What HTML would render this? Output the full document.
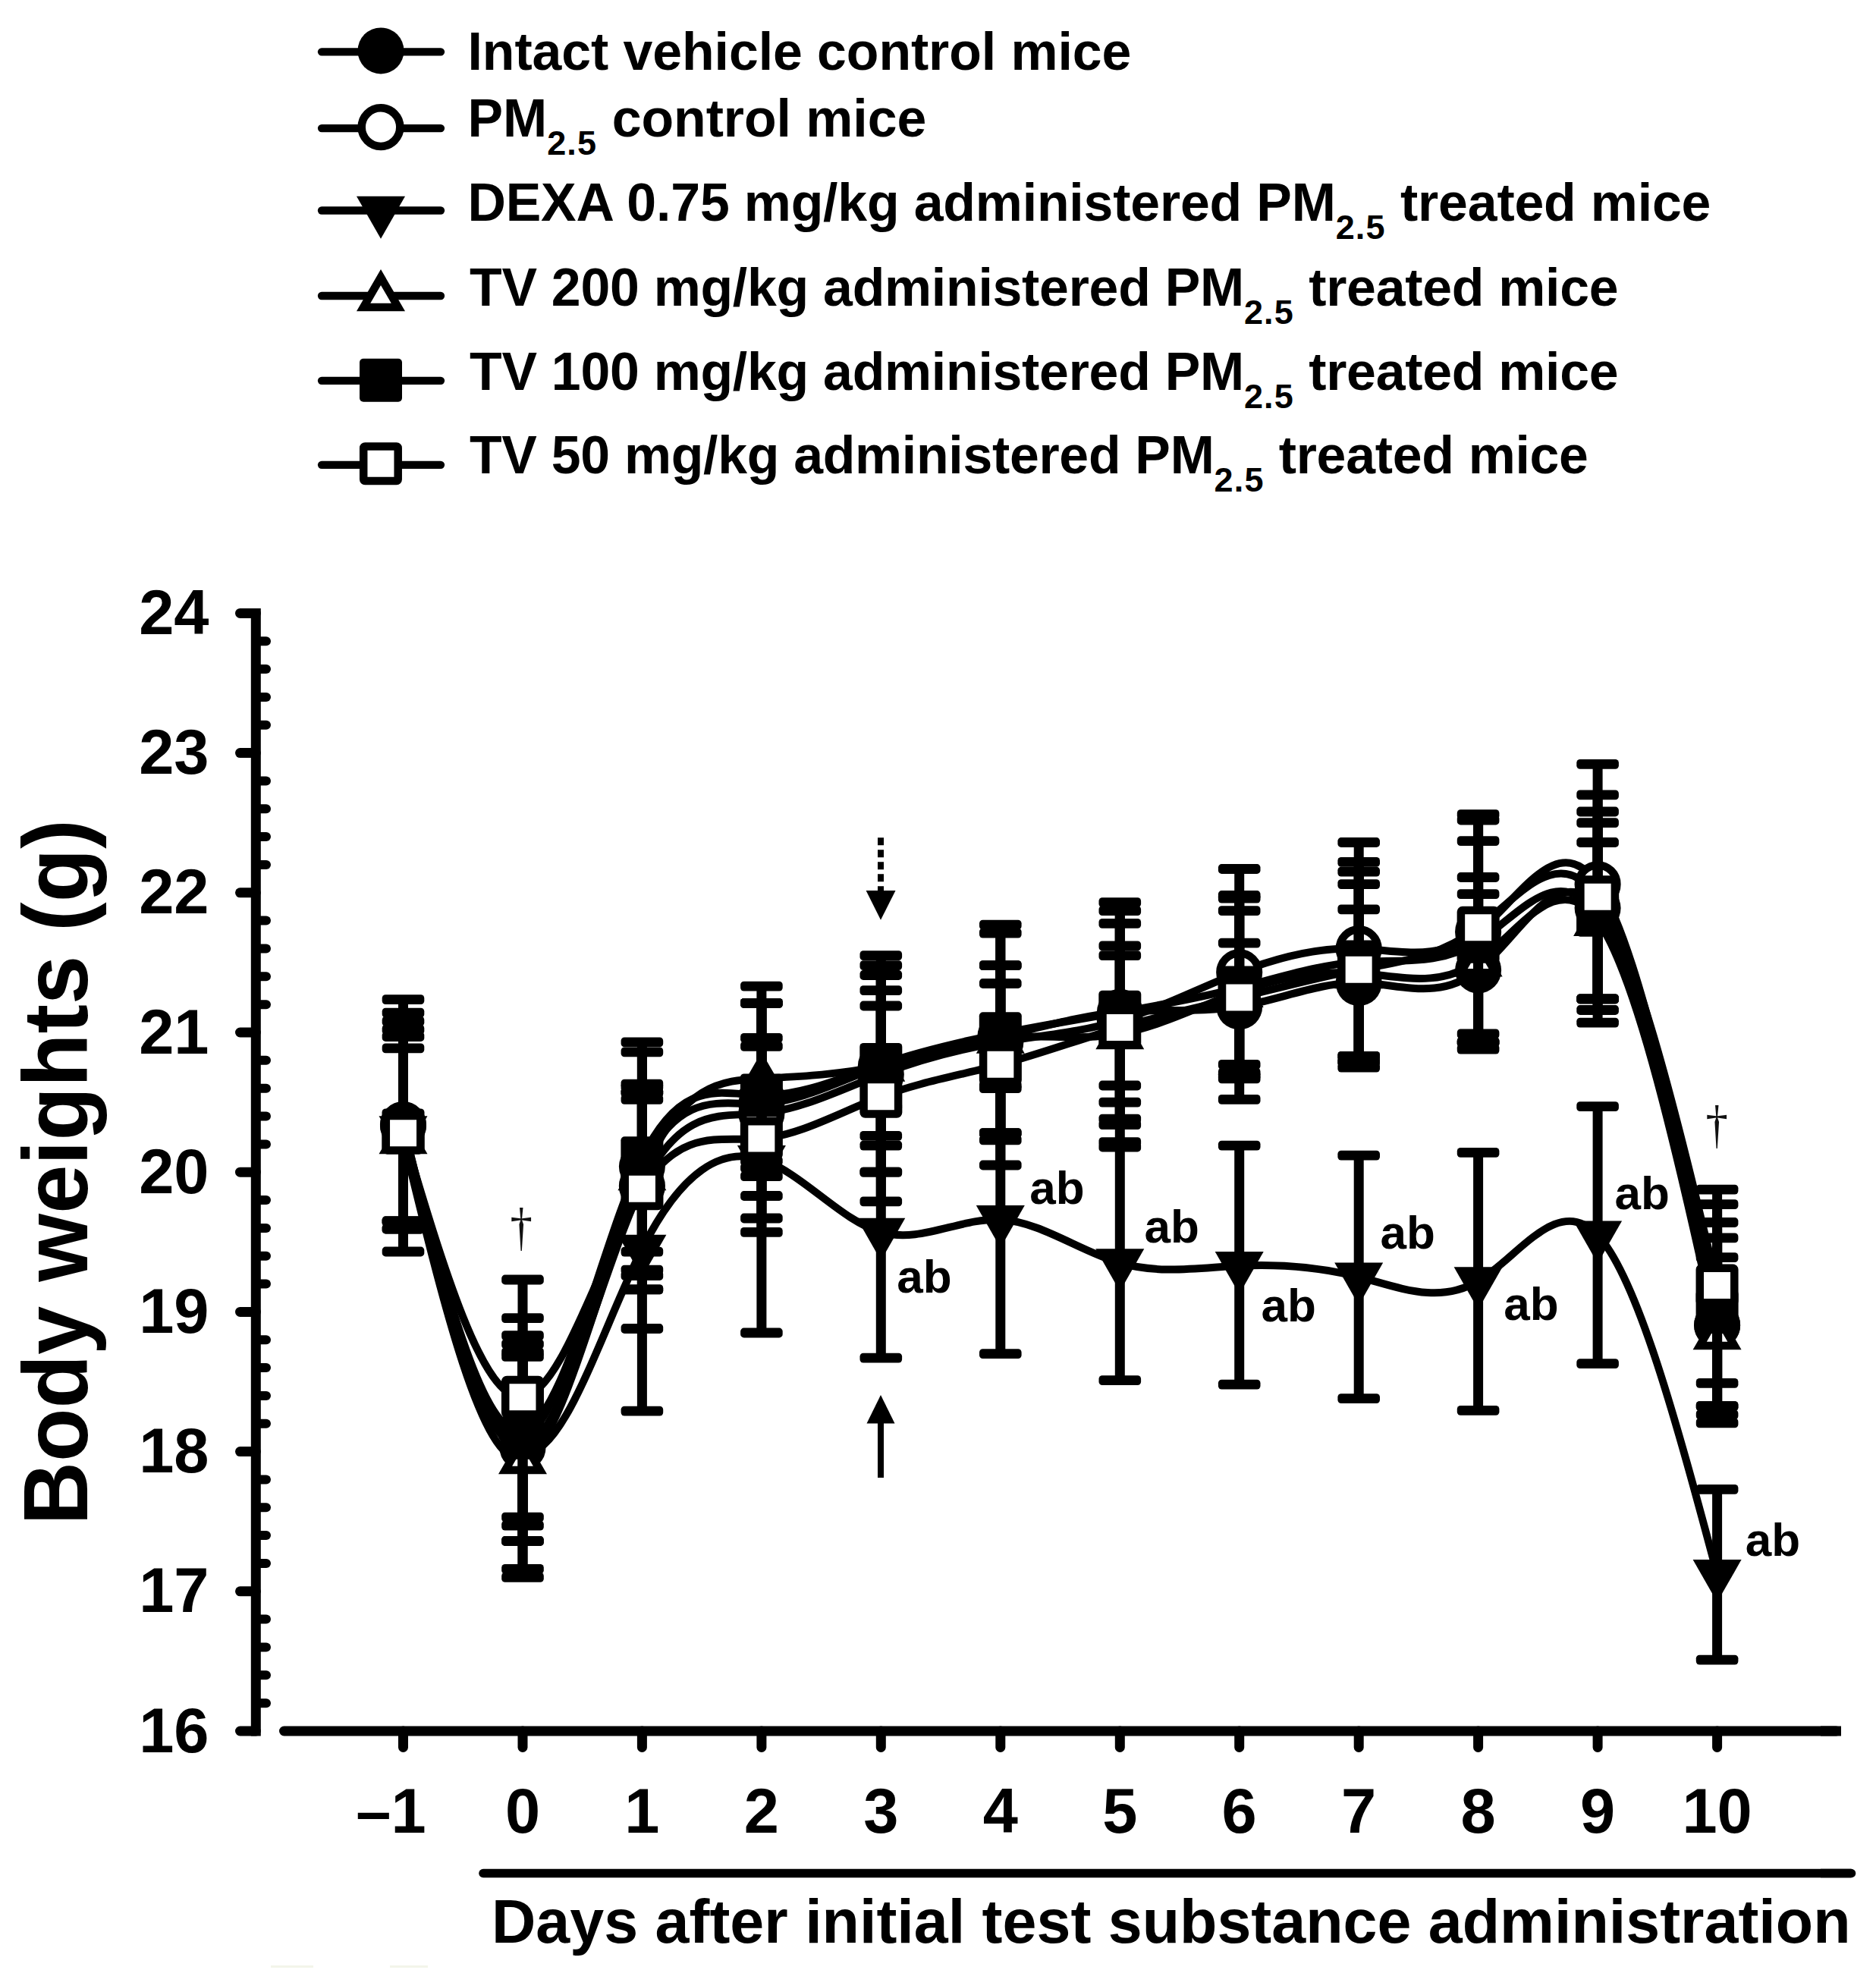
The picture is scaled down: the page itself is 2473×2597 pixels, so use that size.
<!DOCTYPE html>
<html lang="en">
<head>
<meta charset="utf-8">
<title>Body weights</title>
<style>html,body{margin:0;padding:0;background:#fff}svg{display:block}</style>
</head>
<body>
<svg width="2473" height="2597" viewBox="0 0 2473 2597" font-family="'Liberation Sans', sans-serif" font-weight="bold" fill="#000">
<rect width="2473" height="2597" fill="#fff"/>
<g id="legend">
<line x1="424" y1="68.3" x2="581" y2="68.3" stroke="#000" stroke-width="10.3" stroke-linecap="round"/>
<circle cx="502.0" cy="66.9" r="30.5"/>
<text x="616.5" y="91.6" font-size="69.8" letter-spacing="-0.070" xml:space="preserve">Intact vehicle control mice</text>
<line x1="424" y1="169.1" x2="581" y2="169.1" stroke="#000" stroke-width="10.3" stroke-linecap="round"/>
<circle cx="502.0" cy="167.6" r="25.3" fill="#fff" stroke="#000" stroke-width="10.5"/>
<text x="616.5" y="179.5" font-size="69.8" letter-spacing="-0.030" xml:space="preserve">PM<tspan font-size="45" dy="24" letter-spacing="1.2">2.5</tspan><tspan dy="-24"> control mice</tspan></text>
<line x1="424" y1="277.5" x2="581" y2="277.5" stroke="#000" stroke-width="10.3" stroke-linecap="round"/>
<path d="M470.0 258.8 H534.0 L502.0 314.8 Z"/>
<text x="616.5" y="291.0" font-size="69.8" letter-spacing="-0.170" xml:space="preserve">DEXA 0.75 mg/kg administered PM<tspan font-size="45" dy="24" letter-spacing="1.2">2.5</tspan><tspan dy="-24"> treated mice</tspan></text>
<line x1="424" y1="390.0" x2="581" y2="390.0" stroke="#000" stroke-width="10.3" stroke-linecap="round"/>
<path d="M479.1 405.1 L524.9 405.1 L502.0 365.5 Z" fill="#fff" stroke="#000" stroke-width="10.5" stroke-linejoin="miter" stroke-miterlimit="10"/>
<text x="619.0" y="403.0" font-size="69.8" letter-spacing="-0.250" xml:space="preserve">TV 200 mg/kg administered PM<tspan font-size="45" dy="24" letter-spacing="1.2">2.5</tspan><tspan dy="-24"> treated mice</tspan></text>
<line x1="424" y1="501.8" x2="581" y2="501.8" stroke="#000" stroke-width="10.3" stroke-linecap="round"/>
<rect x="474.0" y="472.7" width="56" height="57" rx="5"/>
<text x="619.0" y="514.2" font-size="69.8" letter-spacing="-0.250" xml:space="preserve">TV 100 mg/kg administered PM<tspan font-size="45" dy="24" letter-spacing="1.2">2.5</tspan><tspan dy="-24"> treated mice</tspan></text>
<line x1="424" y1="612.8" x2="581" y2="612.8" stroke="#000" stroke-width="10.3" stroke-linecap="round"/>
<rect x="479.2" y="588.5" width="45.5" height="45.5" rx="2" fill="#fff" stroke="#000" stroke-width="10.5"/>
<text x="619.0" y="623.5" font-size="69.8" letter-spacing="-0.280" xml:space="preserve">TV 50 mg/kg administered PM<tspan font-size="45" dy="24" letter-spacing="1.2">2.5</tspan><tspan dy="-24"> treated mice</tspan></text>
</g>
<g id="axes" stroke="#000" fill="none">
<line x1="337.3" y1="801.9" x2="337.3" y2="2288.5" stroke-width="13"/>
<line x1="316.5" y1="2282.0" x2="337.3" y2="2282.0" stroke-width="13" stroke-linecap="round"/>
<line x1="337.3" y1="2245.2" x2="351" y2="2245.2" stroke-width="12" stroke-linecap="round"/>
<line x1="337.3" y1="2208.3" x2="351" y2="2208.3" stroke-width="12" stroke-linecap="round"/>
<line x1="337.3" y1="2171.5" x2="351" y2="2171.5" stroke-width="12" stroke-linecap="round"/>
<line x1="337.3" y1="2134.6" x2="351" y2="2134.6" stroke-width="12" stroke-linecap="round"/>
<line x1="316.5" y1="2097.8" x2="337.3" y2="2097.8" stroke-width="13" stroke-linecap="round"/>
<line x1="337.3" y1="2061.0" x2="351" y2="2061.0" stroke-width="12" stroke-linecap="round"/>
<line x1="337.3" y1="2024.1" x2="351" y2="2024.1" stroke-width="12" stroke-linecap="round"/>
<line x1="337.3" y1="1987.3" x2="351" y2="1987.3" stroke-width="12" stroke-linecap="round"/>
<line x1="337.3" y1="1950.4" x2="351" y2="1950.4" stroke-width="12" stroke-linecap="round"/>
<line x1="316.5" y1="1913.6" x2="337.3" y2="1913.6" stroke-width="13" stroke-linecap="round"/>
<line x1="337.3" y1="1876.8" x2="351" y2="1876.8" stroke-width="12" stroke-linecap="round"/>
<line x1="337.3" y1="1839.9" x2="351" y2="1839.9" stroke-width="12" stroke-linecap="round"/>
<line x1="337.3" y1="1803.1" x2="351" y2="1803.1" stroke-width="12" stroke-linecap="round"/>
<line x1="337.3" y1="1766.2" x2="351" y2="1766.2" stroke-width="12" stroke-linecap="round"/>
<line x1="316.5" y1="1729.4" x2="337.3" y2="1729.4" stroke-width="13" stroke-linecap="round"/>
<line x1="337.3" y1="1692.6" x2="351" y2="1692.6" stroke-width="12" stroke-linecap="round"/>
<line x1="337.3" y1="1655.7" x2="351" y2="1655.7" stroke-width="12" stroke-linecap="round"/>
<line x1="337.3" y1="1618.9" x2="351" y2="1618.9" stroke-width="12" stroke-linecap="round"/>
<line x1="337.3" y1="1582.0" x2="351" y2="1582.0" stroke-width="12" stroke-linecap="round"/>
<line x1="316.5" y1="1545.2" x2="337.3" y2="1545.2" stroke-width="13" stroke-linecap="round"/>
<line x1="337.3" y1="1508.4" x2="351" y2="1508.4" stroke-width="12" stroke-linecap="round"/>
<line x1="337.3" y1="1471.5" x2="351" y2="1471.5" stroke-width="12" stroke-linecap="round"/>
<line x1="337.3" y1="1434.7" x2="351" y2="1434.7" stroke-width="12" stroke-linecap="round"/>
<line x1="337.3" y1="1397.8" x2="351" y2="1397.8" stroke-width="12" stroke-linecap="round"/>
<line x1="316.5" y1="1361.0" x2="337.3" y2="1361.0" stroke-width="13" stroke-linecap="round"/>
<line x1="337.3" y1="1324.2" x2="351" y2="1324.2" stroke-width="12" stroke-linecap="round"/>
<line x1="337.3" y1="1287.3" x2="351" y2="1287.3" stroke-width="12" stroke-linecap="round"/>
<line x1="337.3" y1="1250.5" x2="351" y2="1250.5" stroke-width="12" stroke-linecap="round"/>
<line x1="337.3" y1="1213.6" x2="351" y2="1213.6" stroke-width="12" stroke-linecap="round"/>
<line x1="316.5" y1="1176.8" x2="337.3" y2="1176.8" stroke-width="13" stroke-linecap="round"/>
<line x1="337.3" y1="1140.0" x2="351" y2="1140.0" stroke-width="12" stroke-linecap="round"/>
<line x1="337.3" y1="1103.1" x2="351" y2="1103.1" stroke-width="12" stroke-linecap="round"/>
<line x1="337.3" y1="1066.3" x2="351" y2="1066.3" stroke-width="12" stroke-linecap="round"/>
<line x1="337.3" y1="1029.4" x2="351" y2="1029.4" stroke-width="12" stroke-linecap="round"/>
<line x1="316.5" y1="992.6" x2="337.3" y2="992.6" stroke-width="13" stroke-linecap="round"/>
<line x1="337.3" y1="955.8" x2="351" y2="955.8" stroke-width="12" stroke-linecap="round"/>
<line x1="337.3" y1="918.9" x2="351" y2="918.9" stroke-width="12" stroke-linecap="round"/>
<line x1="337.3" y1="882.1" x2="351" y2="882.1" stroke-width="12" stroke-linecap="round"/>
<line x1="337.3" y1="845.2" x2="351" y2="845.2" stroke-width="12" stroke-linecap="round"/>
<line x1="316.5" y1="808.4" x2="337.3" y2="808.4" stroke-width="13" stroke-linecap="round"/>
<line x1="374.5" y1="2282.0" x2="2420.5" y2="2282.0" stroke-width="13" stroke-linecap="round"/>
<line x1="2400" y1="2282.0" x2="2427" y2="2282.0" stroke-width="13"/>
<line x1="531.5" y1="2282.0" x2="531.5" y2="2303.5" stroke-width="13" stroke-linecap="round"/>
<line x1="689.0" y1="2282.0" x2="689.0" y2="2303.5" stroke-width="13" stroke-linecap="round"/>
<line x1="846.4" y1="2282.0" x2="846.4" y2="2303.5" stroke-width="13" stroke-linecap="round"/>
<line x1="1003.9" y1="2282.0" x2="1003.9" y2="2303.5" stroke-width="13" stroke-linecap="round"/>
<line x1="1161.3" y1="2282.0" x2="1161.3" y2="2303.5" stroke-width="13" stroke-linecap="round"/>
<line x1="1318.8" y1="2282.0" x2="1318.8" y2="2303.5" stroke-width="13" stroke-linecap="round"/>
<line x1="1476.3" y1="2282.0" x2="1476.3" y2="2303.5" stroke-width="13" stroke-linecap="round"/>
<line x1="1633.7" y1="2282.0" x2="1633.7" y2="2303.5" stroke-width="13" stroke-linecap="round"/>
<line x1="1791.2" y1="2282.0" x2="1791.2" y2="2303.5" stroke-width="13" stroke-linecap="round"/>
<line x1="1948.6" y1="2282.0" x2="1948.6" y2="2303.5" stroke-width="13" stroke-linecap="round"/>
<line x1="2106.1" y1="2282.0" x2="2106.1" y2="2303.5" stroke-width="13" stroke-linecap="round"/>
<line x1="2263.6" y1="2282.0" x2="2263.6" y2="2303.5" stroke-width="13" stroke-linecap="round"/>
<line x1="637" y1="2469.5" x2="2440.5" y2="2469.5" stroke-width="11.6" stroke-linecap="round"/>
<line x1="2400" y1="2469.5" x2="2440.5" y2="2469.5" stroke-width="11.6"/>
</g>
<g id="ticklabels" font-size="83">
<text x="275.5" y="2309.5" text-anchor="end">16</text>
<text x="275.5" y="2125.3" text-anchor="end">17</text>
<text x="275.5" y="1941.1" text-anchor="end">18</text>
<text x="275.5" y="1756.9" text-anchor="end">19</text>
<text x="275.5" y="1572.7" text-anchor="end">20</text>
<text x="275.5" y="1388.5" text-anchor="end">21</text>
<text x="275.5" y="1204.3" text-anchor="end">22</text>
<text x="275.5" y="1020.1" text-anchor="end">23</text>
<text x="275.5" y="835.9" text-anchor="end">24</text>
<text x="515.5" y="2415.5" text-anchor="middle">–1</text>
<text x="689.0" y="2415.5" text-anchor="middle">0</text>
<text x="846.4" y="2415.5" text-anchor="middle">1</text>
<text x="1003.9" y="2415.5" text-anchor="middle">2</text>
<text x="1161.3" y="2415.5" text-anchor="middle">3</text>
<text x="1318.8" y="2415.5" text-anchor="middle">4</text>
<text x="1476.3" y="2415.5" text-anchor="middle">5</text>
<text x="1633.7" y="2415.5" text-anchor="middle">6</text>
<text x="1791.2" y="2415.5" text-anchor="middle">7</text>
<text x="1948.6" y="2415.5" text-anchor="middle">8</text>
<text x="2106.1" y="2415.5" text-anchor="middle">9</text>
<text x="2263.6" y="2415.5" text-anchor="middle">10</text>
</g>
<text x="648" y="2561" font-size="80.8">Days after initial test substance administration</text>
<text transform="translate(114.5 2010.5) rotate(-90) scale(0.9585 1)" font-size="120.5">Body weights (g)</text>
<g id="data" stroke-linejoin="round">
<g id="seriesA">
<path d="M531.5 1484.4 C584.0 1691.4 636.5 1898.3 689.0 1886.0 C741.4 1873.6 793.9 1641.9 846.4 1537.8 C898.9 1433.8 951.4 1457.5 1003.9 1454.9 C1056.4 1452.4 1108.9 1423.7 1161.3 1405.2 C1213.8 1386.7 1266.3 1378.4 1318.8 1366.5 C1371.3 1354.6 1423.8 1339.1 1476.3 1334.3 C1528.7 1329.5 1581.2 1335.5 1633.7 1326.9 C1686.2 1318.3 1738.7 1295.0 1791.2 1295.6 C1843.7 1296.2 1896.2 1320.6 1948.6 1279.0 C2001.1 1237.5 2053.6 1130.1 2106.1 1197.1 C2158.6 1264.1 2211.1 1505.5 2263.6 1746.9" fill="none" stroke="#000" stroke-width="10.0" stroke-linecap="round"/>
<path d="M531.5 1317.7 V1650.0 M689.0 1737.7 V2068.3 M846.4 1386.8 V1699.9 M1003.9 1322.3 V1576.5 M1161.3 1259.7 V1545.2 M1318.8 1219.2 V1502.8 M1476.3 1189.7 V1475.2 M1633.7 1243.1 V1403.4 M1791.2 1198.9 V1392.3 M1948.6 1178.6 V1383.1 M2106.1 1084.7 V1316.8 M2263.6 1631.8 V1864.8" fill="none" stroke="#000" stroke-width="13.0"/>
<rect x="503.7" y="1311.3" width="55.6" height="12.8" rx="4.5"/><rect x="503.7" y="1643.6" width="55.6" height="12.8" rx="4.5"/><rect x="661.2" y="1731.3" width="55.6" height="12.8" rx="4.5"/><rect x="661.2" y="2061.9" width="55.6" height="12.8" rx="4.5"/><rect x="818.6" y="1380.4" width="55.6" height="12.8" rx="4.5"/><rect x="818.6" y="1693.5" width="55.6" height="12.8" rx="4.5"/><rect x="976.1" y="1315.9" width="55.6" height="12.8" rx="4.5"/><rect x="976.1" y="1570.1" width="55.6" height="12.8" rx="4.5"/><rect x="1133.5" y="1253.3" width="55.6" height="12.8" rx="4.5"/><rect x="1133.5" y="1538.8" width="55.6" height="12.8" rx="4.5"/><rect x="1291.0" y="1212.8" width="55.6" height="12.8" rx="4.5"/><rect x="1291.0" y="1496.4" width="55.6" height="12.8" rx="4.5"/><rect x="1448.5" y="1183.3" width="55.6" height="12.8" rx="4.5"/><rect x="1448.5" y="1468.8" width="55.6" height="12.8" rx="4.5"/><rect x="1605.9" y="1236.7" width="55.6" height="12.8" rx="4.5"/><rect x="1605.9" y="1397.0" width="55.6" height="12.8" rx="4.5"/><rect x="1763.4" y="1192.5" width="55.6" height="12.8" rx="4.5"/><rect x="1763.4" y="1385.9" width="55.6" height="12.8" rx="4.5"/><rect x="1920.8" y="1172.2" width="55.6" height="12.8" rx="4.5"/><rect x="1920.8" y="1376.7" width="55.6" height="12.8" rx="4.5"/><rect x="2078.3" y="1078.3" width="55.6" height="12.8" rx="4.5"/><rect x="2078.3" y="1310.4" width="55.6" height="12.8" rx="4.5"/><rect x="2235.8" y="1625.4" width="55.6" height="12.8" rx="4.5"/><rect x="2235.8" y="1858.4" width="55.6" height="12.8" rx="4.5"/>
<circle cx="531.5" cy="1484.4" r="30.5"/>
<circle cx="689.0" cy="1886.0" r="30.5"/>
<circle cx="846.4" cy="1537.8" r="30.5"/>
<circle cx="1003.9" cy="1454.9" r="30.5"/>
<circle cx="1161.3" cy="1405.2" r="30.5"/>
<circle cx="1318.8" cy="1366.5" r="30.5"/>
<circle cx="1476.3" cy="1334.3" r="30.5"/>
<circle cx="1633.7" cy="1326.9" r="30.5"/>
<circle cx="1791.2" cy="1295.6" r="30.5"/>
<circle cx="1948.6" cy="1279.0" r="30.5"/>
<circle cx="2106.1" cy="1197.1" r="30.5"/>
<circle cx="2263.6" cy="1746.9" r="30.5"/>
</g>
<g id="seriesB">
<path d="M531.5 1482.6 C584.0 1698.8 636.5 1915.1 689.0 1908.1 C741.4 1901.0 793.9 1670.6 846.4 1563.6 C898.9 1456.6 951.4 1472.9 1003.9 1467.8 C1056.4 1462.8 1108.9 1436.3 1161.3 1416.3 C1213.8 1396.2 1266.3 1382.7 1318.8 1373.9 C1371.3 1365.1 1423.8 1361.1 1476.3 1345.3 C1528.7 1329.6 1581.2 1302.0 1633.7 1281.8 C1686.2 1261.5 1738.7 1248.6 1791.2 1250.5 C1843.7 1252.4 1896.2 1269.2 1948.6 1228.4 C2001.1 1187.5 2053.6 1088.9 2106.1 1165.7 C2158.6 1242.6 2211.1 1494.7 2263.6 1746.9" fill="none" stroke="#000" stroke-width="10.0" stroke-linecap="round"/>
<path d="M531.5 1335.2 V1620.0 M689.0 1771.8 V2031.5 M846.4 1440.2 V1674.1 M1003.9 1322.3 V1606.0 M1161.3 1326.0 V1497.3 M1318.8 1296.5 V1434.7 M1476.3 1259.7 V1431.0 M1633.7 1145.5 V1418.1 M1791.2 1110.5 V1392.3 M1948.6 1081.0 V1373.9 M2106.1 1007.3 V1331.5 M2263.6 1611.5 V1853.7" fill="none" stroke="#000" stroke-width="13.0"/>
<rect x="503.7" y="1328.8" width="55.6" height="12.8" rx="4.5"/><rect x="503.7" y="1613.6" width="55.6" height="12.8" rx="4.5"/><rect x="661.2" y="1765.4" width="55.6" height="12.8" rx="4.5"/><rect x="661.2" y="2025.1" width="55.6" height="12.8" rx="4.5"/><rect x="818.6" y="1433.8" width="55.6" height="12.8" rx="4.5"/><rect x="818.6" y="1667.7" width="55.6" height="12.8" rx="4.5"/><rect x="976.1" y="1315.9" width="55.6" height="12.8" rx="4.5"/><rect x="976.1" y="1599.6" width="55.6" height="12.8" rx="4.5"/><rect x="1133.5" y="1319.6" width="55.6" height="12.8" rx="4.5"/><rect x="1133.5" y="1490.9" width="55.6" height="12.8" rx="4.5"/><rect x="1291.0" y="1290.1" width="55.6" height="12.8" rx="4.5"/><rect x="1291.0" y="1428.3" width="55.6" height="12.8" rx="4.5"/><rect x="1448.5" y="1253.3" width="55.6" height="12.8" rx="4.5"/><rect x="1448.5" y="1424.6" width="55.6" height="12.8" rx="4.5"/><rect x="1605.9" y="1139.1" width="55.6" height="12.8" rx="4.5"/><rect x="1605.9" y="1411.7" width="55.6" height="12.8" rx="4.5"/><rect x="1763.4" y="1104.1" width="55.6" height="12.8" rx="4.5"/><rect x="1763.4" y="1385.9" width="55.6" height="12.8" rx="4.5"/><rect x="1920.8" y="1074.6" width="55.6" height="12.8" rx="4.5"/><rect x="1920.8" y="1367.5" width="55.6" height="12.8" rx="4.5"/><rect x="2078.3" y="1000.9" width="55.6" height="12.8" rx="4.5"/><rect x="2078.3" y="1325.1" width="55.6" height="12.8" rx="4.5"/><rect x="2235.8" y="1605.1" width="55.6" height="12.8" rx="4.5"/><rect x="2235.8" y="1847.3" width="55.6" height="12.8" rx="4.5"/>
<circle cx="531.5" cy="1482.6" r="25.3" fill="#fff" stroke="#000" stroke-width="10.5"/>
<circle cx="689.0" cy="1908.1" r="25.3" fill="#fff" stroke="#000" stroke-width="10.5"/>
<circle cx="846.4" cy="1563.6" r="25.3" fill="#fff" stroke="#000" stroke-width="10.5"/>
<circle cx="1003.9" cy="1467.8" r="25.3" fill="#fff" stroke="#000" stroke-width="10.5"/>
<circle cx="1161.3" cy="1416.3" r="25.3" fill="#fff" stroke="#000" stroke-width="10.5"/>
<circle cx="1318.8" cy="1373.9" r="25.3" fill="#fff" stroke="#000" stroke-width="10.5"/>
<circle cx="1476.3" cy="1345.3" r="25.3" fill="#fff" stroke="#000" stroke-width="10.5"/>
<circle cx="1633.7" cy="1281.8" r="25.3" fill="#fff" stroke="#000" stroke-width="10.5"/>
<circle cx="1791.2" cy="1250.5" r="25.3" fill="#fff" stroke="#000" stroke-width="10.5"/>
<circle cx="1948.6" cy="1228.4" r="25.3" fill="#fff" stroke="#000" stroke-width="10.5"/>
<circle cx="2106.1" cy="1165.7" r="25.3" fill="#fff" stroke="#000" stroke-width="10.5"/>
<circle cx="2263.6" cy="1746.9" r="25.3" fill="#fff" stroke="#000" stroke-width="10.5"/>
</g>
<g id="seriesC">
<path d="M531.5 1489.9 C584.0 1694.8 636.5 1899.7 689.0 1913.6 C741.4 1927.5 793.9 1750.4 846.4 1646.5 C898.9 1542.6 951.4 1511.9 1003.9 1528.6 C1056.4 1545.3 1108.9 1609.4 1161.3 1624.4 C1213.8 1639.4 1266.3 1605.2 1318.8 1607.8 C1371.3 1610.4 1423.8 1649.7 1476.3 1664.9 C1528.7 1680.1 1581.2 1671.2 1633.7 1668.6 C1686.2 1666.1 1738.7 1669.9 1791.2 1683.3 C1843.7 1696.8 1896.2 1719.9 1948.6 1688.9 C2001.1 1657.9 2053.6 1572.8 2106.1 1628.1 C2158.6 1683.4 2211.1 1879.1 2263.6 2074.8" fill="none" stroke="#000" stroke-width="10.0" stroke-linecap="round"/>
<path d="M531.5 1346.3 V1620.0 M689.0 1782.8 V2031.5 M846.4 1432.8 V1860.2 M1003.9 1300.2 V1757.0 M1161.3 1458.6 V1790.2 M1318.8 1431.0 V1784.7 M1476.3 1512.0 V1819.7 M1633.7 1510.2 V1825.2 M1791.2 1523.1 V1843.6 M1948.6 1519.4 V1859.3 M2106.1 1458.6 V1797.6 M2263.6 1963.3 V2188.1" fill="none" stroke="#000" stroke-width="13.0"/>
<rect x="503.7" y="1339.9" width="55.6" height="12.8" rx="4.5"/><rect x="503.7" y="1613.6" width="55.6" height="12.8" rx="4.5"/><rect x="661.2" y="1776.4" width="55.6" height="12.8" rx="4.5"/><rect x="661.2" y="2025.1" width="55.6" height="12.8" rx="4.5"/><rect x="818.6" y="1426.4" width="55.6" height="12.8" rx="4.5"/><rect x="818.6" y="1853.8" width="55.6" height="12.8" rx="4.5"/><rect x="976.1" y="1293.8" width="55.6" height="12.8" rx="4.5"/><rect x="976.1" y="1750.6" width="55.6" height="12.8" rx="4.5"/><rect x="1133.5" y="1452.2" width="55.6" height="12.8" rx="4.5"/><rect x="1133.5" y="1783.8" width="55.6" height="12.8" rx="4.5"/><rect x="1291.0" y="1424.6" width="55.6" height="12.8" rx="4.5"/><rect x="1291.0" y="1778.3" width="55.6" height="12.8" rx="4.5"/><rect x="1448.5" y="1505.6" width="55.6" height="12.8" rx="4.5"/><rect x="1448.5" y="1813.3" width="55.6" height="12.8" rx="4.5"/><rect x="1605.9" y="1503.8" width="55.6" height="12.8" rx="4.5"/><rect x="1605.9" y="1818.8" width="55.6" height="12.8" rx="4.5"/><rect x="1763.4" y="1516.7" width="55.6" height="12.8" rx="4.5"/><rect x="1763.4" y="1837.2" width="55.6" height="12.8" rx="4.5"/><rect x="1920.8" y="1513.0" width="55.6" height="12.8" rx="4.5"/><rect x="1920.8" y="1852.9" width="55.6" height="12.8" rx="4.5"/><rect x="2078.3" y="1452.2" width="55.6" height="12.8" rx="4.5"/><rect x="2078.3" y="1791.2" width="55.6" height="12.8" rx="4.5"/><rect x="2235.8" y="1956.9" width="55.6" height="12.8" rx="4.5"/><rect x="2235.8" y="2181.7" width="55.6" height="12.8" rx="4.5"/>
<path d="M499.5 1471.2 H563.5 L531.5 1527.2 Z"/>
<path d="M657.0 1894.9 H721.0 L689.0 1950.9 Z"/>
<path d="M814.4 1627.8 H878.4 L846.4 1683.8 Z"/>
<path d="M971.9 1509.9 H1035.9 L1003.9 1565.9 Z"/>
<path d="M1129.3 1605.7 H1193.3 L1161.3 1661.7 Z"/>
<path d="M1286.8 1589.1 H1350.8 L1318.8 1645.1 Z"/>
<path d="M1444.3 1646.2 H1508.3 L1476.3 1702.2 Z"/>
<path d="M1601.7 1649.9 H1665.7 L1633.7 1705.9 Z"/>
<path d="M1759.2 1664.6 H1823.2 L1791.2 1720.6 Z"/>
<path d="M1916.6 1670.2 H1980.6 L1948.6 1726.2 Z"/>
<path d="M2074.1 1609.4 H2138.1 L2106.1 1665.4 Z"/>
<path d="M2231.6 2056.1 H2295.6 L2263.6 2112.1 Z"/>
</g>
<g id="seriesD">
<path d="M531.5 1501.0 C584.0 1717.8 636.5 1934.6 689.0 1922.8 C741.4 1911.0 793.9 1670.5 846.4 1548.9 C898.9 1427.3 951.4 1424.5 1003.9 1421.8 C1056.4 1419.1 1108.9 1416.5 1161.3 1405.2 C1213.8 1393.9 1266.3 1373.8 1318.8 1368.4 C1371.3 1362.9 1423.8 1372.0 1476.3 1362.8 C1528.7 1353.7 1581.2 1326.2 1633.7 1307.6 C1686.2 1288.9 1738.7 1279.1 1791.2 1282.7 C1843.7 1286.4 1896.2 1303.5 1948.6 1267.1 C2001.1 1230.6 2053.6 1140.6 2106.1 1213.6 C2158.6 1286.7 2211.1 1522.8 2263.6 1758.9" fill="none" stroke="#000" stroke-width="10.0" stroke-linecap="round"/>
<path d="M531.5 1357.3 V1610.0 M689.0 1760.7 V2079.4 M846.4 1440.2 V1650.2 M1003.9 1322.3 V1530.5 M1161.3 1272.6 V1545.2 M1318.8 1230.2 V1493.6 M1476.3 1246.8 V1482.6 M1633.7 1200.7 V1414.4 M1791.2 1165.7 V1399.7 M1948.6 1156.5 V1373.9 M2106.1 1110.5 V1316.8 M2263.6 1657.6 V1853.7" fill="none" stroke="#000" stroke-width="13.0"/>
<rect x="503.7" y="1350.9" width="55.6" height="12.8" rx="4.5"/><rect x="503.7" y="1603.6" width="55.6" height="12.8" rx="4.5"/><rect x="661.2" y="1754.3" width="55.6" height="12.8" rx="4.5"/><rect x="661.2" y="2073.0" width="55.6" height="12.8" rx="4.5"/><rect x="818.6" y="1433.8" width="55.6" height="12.8" rx="4.5"/><rect x="818.6" y="1643.8" width="55.6" height="12.8" rx="4.5"/><rect x="976.1" y="1315.9" width="55.6" height="12.8" rx="4.5"/><rect x="976.1" y="1524.1" width="55.6" height="12.8" rx="4.5"/><rect x="1133.5" y="1266.2" width="55.6" height="12.8" rx="4.5"/><rect x="1133.5" y="1538.8" width="55.6" height="12.8" rx="4.5"/><rect x="1291.0" y="1223.8" width="55.6" height="12.8" rx="4.5"/><rect x="1291.0" y="1487.2" width="55.6" height="12.8" rx="4.5"/><rect x="1448.5" y="1240.4" width="55.6" height="12.8" rx="4.5"/><rect x="1448.5" y="1476.2" width="55.6" height="12.8" rx="4.5"/><rect x="1605.9" y="1194.3" width="55.6" height="12.8" rx="4.5"/><rect x="1605.9" y="1408.0" width="55.6" height="12.8" rx="4.5"/><rect x="1763.4" y="1159.3" width="55.6" height="12.8" rx="4.5"/><rect x="1763.4" y="1393.3" width="55.6" height="12.8" rx="4.5"/><rect x="1920.8" y="1150.1" width="55.6" height="12.8" rx="4.5"/><rect x="1920.8" y="1367.5" width="55.6" height="12.8" rx="4.5"/><rect x="2078.3" y="1104.1" width="55.6" height="12.8" rx="4.5"/><rect x="2078.3" y="1310.4" width="55.6" height="12.8" rx="4.5"/><rect x="2235.8" y="1651.2" width="55.6" height="12.8" rx="4.5"/><rect x="2235.8" y="1847.3" width="55.6" height="12.8" rx="4.5"/>
<path d="M508.6 1516.1 L554.4 1516.1 L531.5 1476.5 Z" fill="#fff" stroke="#000" stroke-width="10.5" stroke-linejoin="miter" stroke-miterlimit="10"/>
<path d="M666.1 1938.0 L711.9 1938.0 L689.0 1898.3 Z" fill="#fff" stroke="#000" stroke-width="10.5" stroke-linejoin="miter" stroke-miterlimit="10"/>
<path d="M823.5 1564.0 L869.3 1564.0 L846.4 1524.4 Z" fill="#fff" stroke="#000" stroke-width="10.5" stroke-linejoin="miter" stroke-miterlimit="10"/>
<path d="M981.0 1436.9 L1026.8 1436.9 L1003.9 1397.3 Z" fill="#fff" stroke="#000" stroke-width="10.5" stroke-linejoin="miter" stroke-miterlimit="10"/>
<path d="M1138.4 1420.4 L1184.2 1420.4 L1161.3 1380.7 Z" fill="#fff" stroke="#000" stroke-width="10.5" stroke-linejoin="miter" stroke-miterlimit="10"/>
<path d="M1295.9 1383.5 L1341.7 1383.5 L1318.8 1343.9 Z" fill="#fff" stroke="#000" stroke-width="10.5" stroke-linejoin="miter" stroke-miterlimit="10"/>
<path d="M1453.4 1378.0 L1499.2 1378.0 L1476.3 1338.3 Z" fill="#fff" stroke="#000" stroke-width="10.5" stroke-linejoin="miter" stroke-miterlimit="10"/>
<path d="M1610.8 1322.7 L1656.6 1322.7 L1633.7 1283.1 Z" fill="#fff" stroke="#000" stroke-width="10.5" stroke-linejoin="miter" stroke-miterlimit="10"/>
<path d="M1768.3 1297.9 L1814.1 1297.9 L1791.2 1258.2 Z" fill="#fff" stroke="#000" stroke-width="10.5" stroke-linejoin="miter" stroke-miterlimit="10"/>
<path d="M1925.7 1282.2 L1971.5 1282.2 L1948.6 1242.6 Z" fill="#fff" stroke="#000" stroke-width="10.5" stroke-linejoin="miter" stroke-miterlimit="10"/>
<path d="M2083.2 1228.8 L2129.0 1228.8 L2106.1 1189.1 Z" fill="#fff" stroke="#000" stroke-width="10.5" stroke-linejoin="miter" stroke-miterlimit="10"/>
<path d="M2240.7 1774.0 L2286.5 1774.0 L2263.6 1734.4 Z" fill="#fff" stroke="#000" stroke-width="10.5" stroke-linejoin="miter" stroke-miterlimit="10"/>
</g>
<g id="seriesE">
<path d="M531.5 1489.9 C584.0 1700.7 636.5 1911.4 689.0 1895.2 C741.4 1879.0 793.9 1635.8 846.4 1526.8 C898.9 1417.8 951.4 1443.0 1003.9 1443.9 C1056.4 1444.7 1108.9 1421.2 1161.3 1403.4 C1213.8 1385.5 1266.3 1373.3 1318.8 1362.8 C1371.3 1352.3 1423.8 1343.5 1476.3 1334.3 C1528.7 1325.1 1581.2 1315.4 1633.7 1302.1 C1686.2 1288.7 1738.7 1271.6 1791.2 1268.0 C1843.7 1264.4 1896.2 1274.3 1948.6 1241.3 C2001.1 1208.2 2053.6 1132.1 2106.1 1206.3 C2158.6 1280.5 2211.1 1504.9 2263.6 1729.4" fill="none" stroke="#000" stroke-width="10.0" stroke-linecap="round"/>
<path d="M531.5 1366.5 V1610.0 M689.0 1788.3 V2011.2 M846.4 1373.9 V1681.5 M1003.9 1379.4 V1539.7 M1161.3 1285.5 V1510.2 M1318.8 1272.6 V1493.6 M1476.3 1217.3 V1453.1 M1633.7 1184.2 V1421.8 M1791.2 1136.3 V1399.7 M1948.6 1108.6 V1373.9 M2106.1 1070.0 V1348.1 M2263.6 1587.6 V1875.8" fill="none" stroke="#000" stroke-width="13.0"/>
<rect x="503.7" y="1360.1" width="55.6" height="12.8" rx="4.5"/><rect x="503.7" y="1603.6" width="55.6" height="12.8" rx="4.5"/><rect x="661.2" y="1781.9" width="55.6" height="12.8" rx="4.5"/><rect x="661.2" y="2004.8" width="55.6" height="12.8" rx="4.5"/><rect x="818.6" y="1367.5" width="55.6" height="12.8" rx="4.5"/><rect x="818.6" y="1675.1" width="55.6" height="12.8" rx="4.5"/><rect x="976.1" y="1373.0" width="55.6" height="12.8" rx="4.5"/><rect x="976.1" y="1533.3" width="55.6" height="12.8" rx="4.5"/><rect x="1133.5" y="1279.1" width="55.6" height="12.8" rx="4.5"/><rect x="1133.5" y="1503.8" width="55.6" height="12.8" rx="4.5"/><rect x="1291.0" y="1266.2" width="55.6" height="12.8" rx="4.5"/><rect x="1291.0" y="1487.2" width="55.6" height="12.8" rx="4.5"/><rect x="1448.5" y="1210.9" width="55.6" height="12.8" rx="4.5"/><rect x="1448.5" y="1446.7" width="55.6" height="12.8" rx="4.5"/><rect x="1605.9" y="1177.8" width="55.6" height="12.8" rx="4.5"/><rect x="1605.9" y="1415.4" width="55.6" height="12.8" rx="4.5"/><rect x="1763.4" y="1129.9" width="55.6" height="12.8" rx="4.5"/><rect x="1763.4" y="1393.3" width="55.6" height="12.8" rx="4.5"/><rect x="1920.8" y="1102.2" width="55.6" height="12.8" rx="4.5"/><rect x="1920.8" y="1367.5" width="55.6" height="12.8" rx="4.5"/><rect x="2078.3" y="1063.6" width="55.6" height="12.8" rx="4.5"/><rect x="2078.3" y="1341.7" width="55.6" height="12.8" rx="4.5"/><rect x="2235.8" y="1581.2" width="55.6" height="12.8" rx="4.5"/><rect x="2235.8" y="1869.4" width="55.6" height="12.8" rx="4.5"/>
<rect x="503.5" y="1461.4" width="56" height="57" rx="5"/>
<rect x="661.0" y="1866.7" width="56" height="57" rx="5"/>
<rect x="818.4" y="1498.3" width="56" height="57" rx="5"/>
<rect x="975.9" y="1415.4" width="56" height="57" rx="5"/>
<rect x="1133.3" y="1374.9" width="56" height="57" rx="5"/>
<rect x="1290.8" y="1334.3" width="56" height="57" rx="5"/>
<rect x="1448.3" y="1305.8" width="56" height="57" rx="5"/>
<rect x="1605.7" y="1273.6" width="56" height="57" rx="5"/>
<rect x="1763.2" y="1239.5" width="56" height="57" rx="5"/>
<rect x="1920.6" y="1212.8" width="56" height="57" rx="5"/>
<rect x="2078.1" y="1177.8" width="56" height="57" rx="5"/>
<rect x="2235.6" y="1700.9" width="56" height="57" rx="5"/>
</g>
<g id="seriesF">
<path d="M531.5 1493.6 C584.0 1670.2 636.5 1846.8 689.0 1841.8 C741.4 1836.7 793.9 1650.0 846.4 1567.3 C898.9 1484.6 951.4 1505.8 1003.9 1501.0 C1056.4 1496.2 1108.9 1465.4 1161.3 1445.7 C1213.8 1426.0 1266.3 1417.4 1318.8 1403.4 C1371.3 1389.3 1423.8 1370.0 1476.3 1354.6 C1528.7 1339.1 1581.2 1327.7 1633.7 1315.0 C1686.2 1302.2 1738.7 1288.0 1791.2 1278.1 C1843.7 1268.2 1896.2 1262.5 1948.6 1222.9 C2001.1 1183.2 2053.6 1109.4 2106.1 1182.3 C2158.6 1255.2 2211.1 1474.8 2263.6 1694.4" fill="none" stroke="#000" stroke-width="10.0" stroke-linecap="round"/>
<path d="M531.5 1381.8 V1610.0 M689.0 1687.0 V2000.2 M846.4 1429.2 V1699.9 M1003.9 1368.4 V1624.4 M1161.3 1305.7 V1583.9 M1318.8 1272.6 V1536.0 M1476.3 1200.7 V1505.6 M1633.7 1180.5 V1449.4 M1791.2 1149.2 V1407.1 M1948.6 1073.6 V1362.8 M2106.1 1047.9 V1316.8 M2263.6 1568.2 V1823.3" fill="none" stroke="#000" stroke-width="13.0"/>
<rect x="503.7" y="1375.4" width="55.6" height="12.8" rx="4.5"/><rect x="503.7" y="1603.6" width="55.6" height="12.8" rx="4.5"/><rect x="661.2" y="1680.6" width="55.6" height="12.8" rx="4.5"/><rect x="661.2" y="1993.8" width="55.6" height="12.8" rx="4.5"/><rect x="818.6" y="1422.8" width="55.6" height="12.8" rx="4.5"/><rect x="818.6" y="1693.5" width="55.6" height="12.8" rx="4.5"/><rect x="976.1" y="1362.0" width="55.6" height="12.8" rx="4.5"/><rect x="976.1" y="1618.0" width="55.6" height="12.8" rx="4.5"/><rect x="1133.5" y="1299.3" width="55.6" height="12.8" rx="4.5"/><rect x="1133.5" y="1577.5" width="55.6" height="12.8" rx="4.5"/><rect x="1291.0" y="1266.2" width="55.6" height="12.8" rx="4.5"/><rect x="1291.0" y="1529.6" width="55.6" height="12.8" rx="4.5"/><rect x="1448.5" y="1194.3" width="55.6" height="12.8" rx="4.5"/><rect x="1448.5" y="1499.2" width="55.6" height="12.8" rx="4.5"/><rect x="1605.9" y="1174.1" width="55.6" height="12.8" rx="4.5"/><rect x="1605.9" y="1443.0" width="55.6" height="12.8" rx="4.5"/><rect x="1763.4" y="1142.8" width="55.6" height="12.8" rx="4.5"/><rect x="1763.4" y="1400.7" width="55.6" height="12.8" rx="4.5"/><rect x="1920.8" y="1067.2" width="55.6" height="12.8" rx="4.5"/><rect x="1920.8" y="1356.4" width="55.6" height="12.8" rx="4.5"/><rect x="2078.3" y="1041.5" width="55.6" height="12.8" rx="4.5"/><rect x="2078.3" y="1310.4" width="55.6" height="12.8" rx="4.5"/><rect x="2235.8" y="1561.8" width="55.6" height="12.8" rx="4.5"/><rect x="2235.8" y="1816.9" width="55.6" height="12.8" rx="4.5"/>
<rect x="508.8" y="1470.9" width="45.5" height="45.5" rx="2" fill="#fff" stroke="#000" stroke-width="10.5"/>
<rect x="666.2" y="1819.0" width="45.5" height="45.5" rx="2" fill="#fff" stroke="#000" stroke-width="10.5"/>
<rect x="823.7" y="1544.6" width="45.5" height="45.5" rx="2" fill="#fff" stroke="#000" stroke-width="10.5"/>
<rect x="981.1" y="1478.2" width="45.5" height="45.5" rx="2" fill="#fff" stroke="#000" stroke-width="10.5"/>
<rect x="1138.6" y="1423.0" width="45.5" height="45.5" rx="2" fill="#fff" stroke="#000" stroke-width="10.5"/>
<rect x="1296.1" y="1380.6" width="45.5" height="45.5" rx="2" fill="#fff" stroke="#000" stroke-width="10.5"/>
<rect x="1453.5" y="1331.8" width="45.5" height="45.5" rx="2" fill="#fff" stroke="#000" stroke-width="10.5"/>
<rect x="1611.0" y="1292.2" width="45.5" height="45.5" rx="2" fill="#fff" stroke="#000" stroke-width="10.5"/>
<rect x="1768.4" y="1255.4" width="45.5" height="45.5" rx="2" fill="#fff" stroke="#000" stroke-width="10.5"/>
<rect x="1925.9" y="1200.1" width="45.5" height="45.5" rx="2" fill="#fff" stroke="#000" stroke-width="10.5"/>
<rect x="2083.4" y="1159.6" width="45.5" height="45.5" rx="2" fill="#fff" stroke="#000" stroke-width="10.5"/>
<rect x="2240.8" y="1671.7" width="45.5" height="45.5" rx="2" fill="#fff" stroke="#000" stroke-width="10.5"/>
</g>
<rect x="818.6" y="1745.1" width="55.6" height="12.8" rx="4.5"/>
<rect x="818.6" y="1443.0" width="55.6" height="12.8" rx="4.5"/>
<rect x="976.1" y="1544.3" width="55.6" height="12.8" rx="4.5"/>
</g>
<g id="annot" font-size="62">
<text x="1182.3" y="1703.5">ab</text>
<text x="1357.2" y="1586.7">ab</text>
<text x="1508.6" y="1637.9">ab</text>
<text x="1662.6" y="1742.0">ab</text>
<text x="1819.6" y="1646.2">ab</text>
<text x="1982.3" y="1740.0">ab</text>
<text x="2128.5" y="1593.7">ab</text>
<text x="2300.8" y="2051.0">ab</text>
</g>
<g font-family="'Liberation Serif', serif" font-weight="normal" font-size="70" text-anchor="middle" fill="#111">
<text transform="translate(687.3 1640.5) scale(0.84 1)">†</text>
<text transform="translate(2263.3 1505.5) scale(0.84 1)">†</text>
</g>
<g id="arrows">
<line x1="1161" y1="1104.3" x2="1161" y2="1180" stroke="#000" stroke-width="8" stroke-dasharray="10 6"/>
<path d="M1141.6 1174 H1180.5 L1161 1212.7 Z"/>
<line x1="1161" y1="1948" x2="1161" y2="1870" stroke="#000" stroke-width="8"/>
<path d="M1142.5 1876.5 H1179.5 L1161 1839 Z"/>
</g>
<rect x="357" y="2591" width="56" height="3" fill="#f3f5ea"/><rect x="514" y="2591" width="50" height="3" fill="#f3f5ea"/>
</svg>
</body>
</html>
